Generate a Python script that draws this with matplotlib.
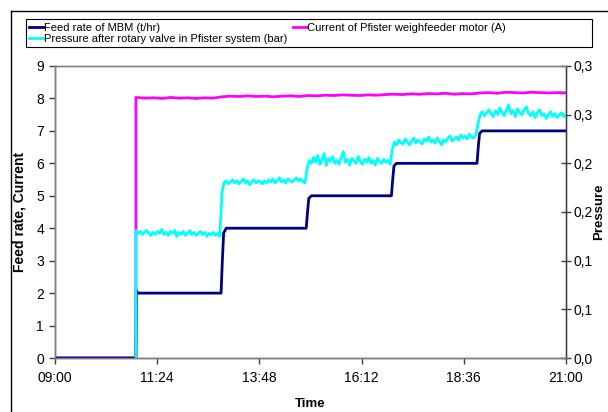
import numpy as np
import matplotlib
matplotlib.use("Agg")
import matplotlib.pyplot as plt
from matplotlib.lines import Line2D
from matplotlib.patches import Rectangle
from matplotlib.ticker import FixedLocator, FuncFormatter

plt.rcParams['font.family'] = ['Liberation Sans', 'DejaVu Sans']

# ---------------- data (time in hours) ----------------
feed_time = [9.0, 10.90, 10.91, 10.95, 12.90, 12.93, 12.96, 13.02,
             14.90, 14.93, 14.96, 15.02, 16.90, 16.93, 16.96, 17.02,
             18.91, 18.94, 18.97, 19.03, 21.0]
feed_rate = [0, 0, 2.08, 2.0, 2.0, 3.0, 3.85, 4.0,
             4.0, 4.5, 4.92, 5.0, 5.0, 5.5, 5.92, 6.0,
             6.0, 6.5, 6.92, 7.0, 7.0]

current_start = [9.0, 10.9]
current_off = [0.0, 0.0]
current_on = [8.03, 8.01, 8.02, 8.00, 8.03, 8.01, 8.02, 8.00, 8.02, 8.01,
              8.05, 8.07, 8.06, 8.08, 8.06, 8.07, 8.05, 8.07, 8.08, 8.06,
              8.09, 8.08, 8.10, 8.09, 8.11, 8.10, 8.09, 8.11, 8.10, 8.12,
              8.13, 8.12, 8.14, 8.13, 8.15, 8.14, 8.16, 8.13, 8.15, 8.14,
              8.17, 8.18, 8.16, 8.19, 8.18, 8.17, 8.19, 8.18, 8.17, 8.18, 8.17]

step_times = [10.9, 12.92, 14.92, 16.92, 18.93, 21.0]
pressure_seg1 = [0.131, 0.128, 0.130, 0.127, 0.129, 0.131, 0.128, 0.126, 0.129, 0.127,
                 0.130, 0.128, 0.132, 0.127, 0.129, 0.126, 0.130, 0.128, 0.131, 0.125,
                 0.129, 0.127, 0.130, 0.126, 0.128, 0.131, 0.127, 0.129, 0.126, 0.128,
                 0.130, 0.127, 0.129, 0.125, 0.128, 0.127, 0.129, 0.126, 0.128, 0.125]
pressure_seg2 = [0.170, 0.180, 0.182, 0.179, 0.181, 0.183, 0.180, 0.182, 0.179, 0.181,
                 0.184, 0.180, 0.182, 0.178, 0.181, 0.183, 0.180, 0.182, 0.181, 0.179,
                 0.182, 0.180, 0.183, 0.181, 0.184, 0.180, 0.182, 0.185, 0.181, 0.183,
                 0.180, 0.184, 0.182, 0.181, 0.183, 0.185, 0.182, 0.184, 0.181, 0.180]
pressure_seg3 = [0.195, 0.203, 0.200, 0.206, 0.201, 0.208, 0.199, 0.204, 0.210, 0.198,
                 0.205, 0.202, 0.207, 0.200, 0.203, 0.199, 0.206, 0.212, 0.201, 0.204,
                 0.198, 0.205, 0.203, 0.200, 0.207, 0.202, 0.199, 0.204, 0.201, 0.206,
                 0.200, 0.203, 0.198, 0.205, 0.202, 0.200, 0.204, 0.201, 0.203, 0.199]
pressure_seg4 = [0.214, 0.222, 0.219, 0.224, 0.221, 0.220, 0.225, 0.222, 0.219, 0.223,
                 0.226, 0.221, 0.224, 0.222, 0.220, 0.225, 0.223, 0.227, 0.222, 0.224,
                 0.221, 0.226, 0.223, 0.219, 0.224, 0.222, 0.226, 0.228, 0.223, 0.225,
                 0.227, 0.224, 0.229, 0.226, 0.228, 0.225, 0.230, 0.227, 0.226, 0.229]
pressure_seg5 = [0.240, 0.250, 0.253, 0.249, 0.252, 0.255, 0.251, 0.248, 0.254, 0.250,
                 0.257, 0.252, 0.249, 0.255, 0.260, 0.251, 0.254, 0.248, 0.256, 0.252,
                 0.250, 0.255, 0.258, 0.251, 0.249, 0.253, 0.247, 0.252, 0.255, 0.249,
                 0.251, 0.246, 0.250, 0.253, 0.248, 0.251, 0.247, 0.250, 0.252, 0.248, 0.249]

xtick_labels = ["09:00", "11:24", "13:48", "16:12", "18:36", "21:00"]
xtick_hours = [9.0, 11.4, 13.8, 16.2, 18.6, 21.0]

# ---------------- build series ----------------
cur_t = list(current_start) + list(np.linspace(10.9, 21.0, len(current_on)))
cur_v = list(current_off) + list(current_on)

segs = [pressure_seg1, pressure_seg2, pressure_seg3, pressure_seg4, pressure_seg5]
p_t = [step_times[0]]
p_v = [0.0]
for i, seg in enumerate(segs):
    t0, t1 = step_times[i], step_times[i + 1]
    ts = np.linspace(t0, t1, len(seg), endpoint=(i == len(segs) - 1))
    p_t += list(ts)
    p_v += list(seg)

# ---------------- figure ----------------
W, H = 608, 412
fig = plt.figure(figsize=(W / 100, H / 100), dpi=100)
ax = fig.add_axes([55 / W, 1 - 358 / H, (566 - 55) / W, (358 - 66) / H])
ax2 = ax.twinx()

navy = '#000080'
magenta = '#FF00FF'
cyan = '#00FFFF'

l1, = ax.plot(feed_time, feed_rate, color=navy, lw=2.0, zorder=3)
l2, = ax.plot(cur_t, cur_v, color=magenta, lw=2.0, zorder=2)
l3, = ax2.plot(p_t, p_v, color=cyan, lw=2.0)

ax.set_xlim(9.0, 21.0)
ax.set_ylim(0, 9)
ax2.set_ylim(0, 0.30)

ax.xaxis.set_major_locator(FixedLocator(xtick_hours))
ax.set_xticklabels(xtick_labels)
ax.set_yticks(range(0, 10))
ax2.set_yticks(np.arange(0, 0.3001, 0.05))
ax2.yaxis.set_major_formatter(FuncFormatter(
    lambda v, p: ("%.1f" % (np.floor(v * 10 + 0.5 + 1e-9) / 10)).replace('.', ',')))

for a in (ax, ax2):
    a.tick_params(labelsize=10, length=4, width=1, colors='black')
    for s in a.spines.values():
        s.set_color('#808080')
        s.set_linewidth(1.0)
ax.spines['left'].set_color('#404040')
ax.spines['bottom'].set_color('#404040')
ax2.spines['right'].set_color('#404040')
ax.tick_params(axis='y', direction='out', pad=4, color='#404040')
ax.tick_params(axis='x', direction='out', pad=5, color='#404040')
ax2.tick_params(axis='y', direction='inout', length=7, pad=2, color='#404040')

ax.set_xlabel('Time', fontsize=9.5, fontweight='bold', labelpad=10)
ax.set_ylabel('Feed rate, Current', fontsize=10, fontweight='bold', labelpad=7)
fig.text(599 / W, 1 - 212 / H, 'Pressure', rotation=90, ha='center', va='center',
         fontsize=9.5, fontweight='bold')

# legend (frame drawn separately to span the chart width)
fig.add_artist(Rectangle((26 / W, 1 - 47 / H), (592 - 26) / W, (47 - 19) / H,
                         transform=fig.transFigure, facecolor='white',
                         edgecolor='black', lw=0.8, zorder=0))
leg = fig.legend([l1, l3, l2],
                 ['Feed rate of MBM (t/hr)',
                  'Pressure after rotary valve in Pfister system (bar)',
                  'Current of Pfister weighfeeder motor (A)'],
                 loc='upper left', bbox_to_anchor=(27 / W, 1 - 21 / H),
                 ncol=2, fontsize=8.0, frameon=False,
                 handlelength=1.3, handletextpad=0.0, borderpad=0.2, labelspacing=0.1,
                 borderaxespad=0.0, columnspacing=0.5)

# outer chart border
fig.add_artist(Line2D([11 / W, 1.0], [1 - 11 / H, 1 - 11 / H], transform=fig.transFigure, color='black', lw=1))
fig.add_artist(Line2D([11 / W, 11 / W], [0, 1 - 11 / H], transform=fig.transFigure, color='black', lw=1))

fig.savefig('out.png', dpi=100)
